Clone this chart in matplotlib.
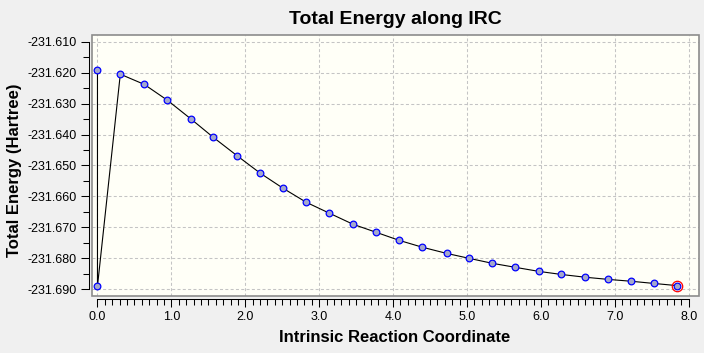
import matplotlib

matplotlib.use("Agg")
import matplotlib.pyplot as plt
import numpy as np
from matplotlib.patches import Rectangle
from matplotlib.ticker import FormatStrFormatter

plt.rcParams["font.family"] = ["Liberation Sans", "DejaVu Sans"]

# IRC points in plotted order (TS, reactant end, then the forward path)
irc_coord = [0.0, 0.0, 0.309, 0.633, 0.945, 1.261, 1.567, 1.892, 2.203, 2.514,
             2.826, 3.137, 3.459, 3.773, 4.084, 4.395, 4.725, 5.030, 5.342,
             5.654, 5.970, 6.276, 6.600, 6.912, 7.223, 7.527, 7.838]
energy = [-231.6193, -231.6890, -231.6205, -231.6238, -231.6289, -231.6349,
          -231.6409, -231.6469, -231.6525, -231.6574, -231.6619, -231.6654,
          -231.6690, -231.6716, -231.6742, -231.6764, -231.6784, -231.6800,
          -231.6816, -231.6829, -231.6842, -231.6852, -231.6861, -231.6868,
          -231.6874, -231.6881, -231.6888]

x_ticks = [0.0, 1.0, 2.0, 3.0, 4.0, 5.0, 6.0, 7.0, 8.0]
y_ticks = [-231.690, -231.680, -231.670, -231.660, -231.650,
           -231.640, -231.630, -231.620, -231.610]

fig = plt.figure(figsize=(7.04, 3.53), dpi=100, facecolor="#f0f0f0")
ax = fig.add_axes([92.3 / 704, 57.5 / 353, 606.7 / 704, 260.5 / 353])
ax.set_facecolor("#fffff7")

ax.plot(irc_coord, energy, color="black", lw=0.8, zorder=3)
ax.plot(irc_coord, energy, ls="none", marker="o", ms=4.8, mfc="#a4a8cc",
        mec="#0000ff", mew=0.9, zorder=4)
# current point highlighted with a red ring
ax.plot(irc_coord[-1], energy[-1], ls="none", marker="o", ms=7.5, mfc="none",
        mec="red", mew=0.9, zorder=5)

ax.set_xlim(-0.070, 8.139)
ax.set_ylim(-231.6920, -231.60784)

ax.set_xticks(x_ticks)
ax.set_xticks(np.arange(0, 8.001, 0.1), minor=True)
ax.set_yticks(y_ticks)
ax.set_yticks(np.arange(y_ticks[0], y_ticks[-1] + 0.001, 0.005), minor=True)
ax.xaxis.set_major_formatter(FormatStrFormatter("%.1f"))
ax.yaxis.set_major_formatter(FormatStrFormatter("%.3f"))
ax.tick_params(which="major", length=5.8, width=0.75, labelsize=9, pad=3)
ax.tick_params(which="minor", length=4.0, width=0.75)

ax.grid(True, which="major", color="#c4c4c4", lw=0.75, ls=(0, (2.9, 2.2)))
ax.set_axisbelow(True)

for side in ("top", "right"):
    ax.spines[side].set_visible(False)
ax.spines["left"].set_position(("outward", 2.2))
ax.spines["bottom"].set_position(("outward", 2.2))
ax.spines["left"].set_bounds(y_ticks[0], y_ticks[-1])
ax.spines["bottom"].set_bounds(x_ticks[0], x_ticks[-1])
for side in ("left", "bottom"):
    ax.spines[side].set_linewidth(0.75)

ax.add_patch(Rectangle((0, 0), 1, 1, transform=ax.transAxes, fill=False,
                       edgecolor="#8c8c8c", lw=1.2, clip_on=False, zorder=6))

ax.set_title("Total Energy along IRC", fontsize=14, fontweight="bold", pad=8)
fig.text(394.5 / 704, (353 - 341.7) / 353, "Intrinsic Reaction Coordinate",
         ha="center", va="baseline", fontsize=12, fontweight="bold")
fig.text(14.5 / 704, (353 - 170) / 353, "Total Energy (Hartree)",
         rotation=90, ha="center", va="center", fontsize=12, fontweight="bold")

fig.savefig("out.png", dpi=100, facecolor=fig.get_facecolor())
